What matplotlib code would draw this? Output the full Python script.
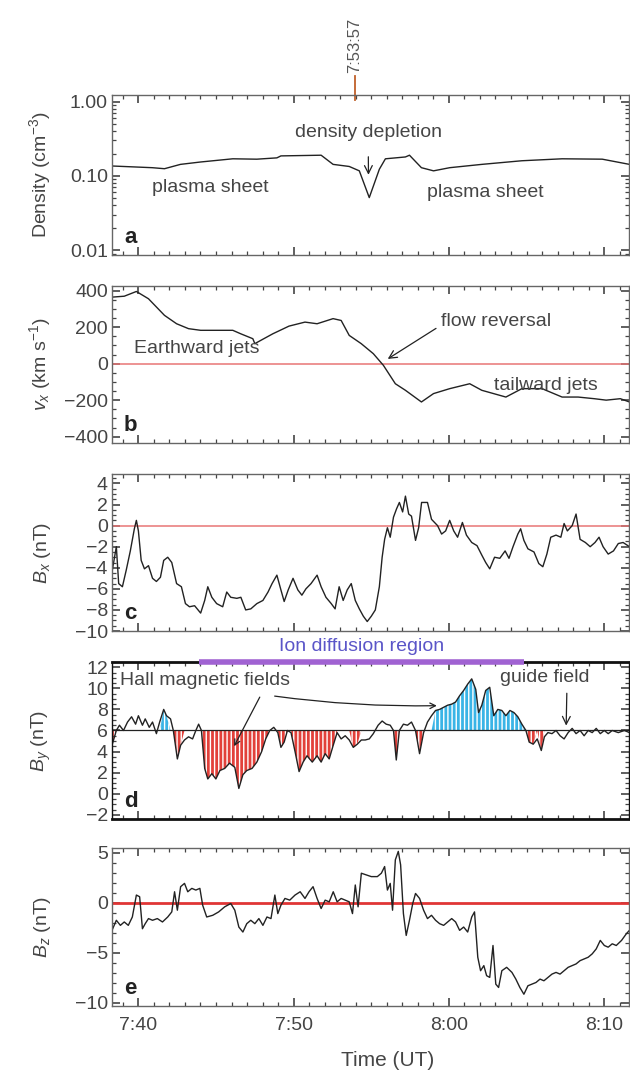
import numpy as np
import matplotlib
matplotlib.use("Agg")
import matplotlib.pyplot as plt
from matplotlib.ticker import MultipleLocator, FixedLocator, LogLocator, NullFormatter

plt.rcParams['font.family'] = ['Liberation Sans', 'DejaVu Sans']
plt.rcParams['mathtext.fontset'] = 'custom'
plt.rcParams['mathtext.rm'] = 'Liberation Sans'
plt.rcParams['mathtext.it'] = 'Liberation Sans:italic'
plt.rcParams['hatch.linewidth'] = 1.0

# time in minutes after 7:40 UT
dens_t = [-1.70, 0.90, 1.68, 2.71, 4.01, 6.08, 7.63, 8.92, 9.18, 11.77, 12.54, 13.58,
          14.23, 14.87, 15.52, 15.91, 17.20, 17.46, 18.23, 19.01, 20.05, 22.12, 24.70,
          27.29, 29.88, 31.63]
dens = [0.136, 0.129, 0.125, 0.143, 0.154, 0.17, 0.168, 0.175, 0.186, 0.19, 0.143, 0.134,
        0.117, 0.051, 0.123, 0.17, 0.18, 0.19, 0.129, 0.117, 0.129, 0.143, 0.16,
        0.17, 0.168, 0.143]

vx_t = [-1.70, -0.91, -0.13, 0.65, 1.68, 2.46, 3.23, 4.01, 5.30, 6.08, 6.59, 7.37, 7.50,
        8.66, 9.70, 10.73, 11.51, 12.54, 13.06, 13.58, 14.35, 15.13, 15.78, 16.55, 17.20,
        18.23, 19.01, 20.05, 21.34, 22.12, 23.67, 24.70, 26.00, 27.29, 28.32, 29.36, 30.13,
        31.04, 31.63]
vx = [365, 370, 396, 356, 265, 219, 192, 183, 183, 183, 164, 137, 110,
      164, 206, 228, 219, 247, 237, 155, 110, 55, -9, -110, -146,
      -210, -164, -137, -110, -146, -183, -137, -137, -183, -183, -192, -200,
      -192, -210]

bx_t = [-1.70, -1.42, -1.27, -1.03, -0.78, -0.52, -0.26, -0.13, 0.00, 0.18, 0.39, 0.65,
        0.91, 1.16, 1.42, 1.63, 1.89, 2.15, 2.46, 2.77, 3.03, 3.29, 3.62, 4.01, 4.27,
        4.47, 4.73, 5.04, 5.43, 5.69, 5.95, 6.34, 6.60, 6.91, 7.24, 7.63, 8.02, 8.35,
        8.61, 8.92, 9.18, 9.39, 9.65, 9.96, 10.27, 10.53, 10.79, 11.12, 11.51, 11.77,
        12.08, 12.42, 12.67, 12.93, 13.19, 13.45, 13.71, 13.97, 14.23, 14.49, 14.74,
        15.00, 15.26, 15.52, 15.70, 15.86, 16.04, 16.22, 16.43, 16.63, 16.81, 17.02,
        17.20, 17.41, 17.59, 17.85, 18.05, 18.24, 18.62, 18.88, 19.27, 19.53, 19.79,
        20.05, 20.31, 20.56, 20.87, 21.13, 21.47, 21.81, 22.12, 22.37, 22.63, 22.94,
        23.28, 23.62, 23.87, 24.13, 24.44, 24.62, 24.83, 25.09, 25.48, 25.79, 26.05,
        26.31, 26.56, 26.90, 27.21, 27.42, 27.63, 27.94, 28.19, 28.45, 28.79, 29.10,
        29.41, 29.67, 29.93, 30.26, 30.60, 30.91, 31.22, 31.63]
bx = [-4.4, -2.0, -5.5, -5.8, -4.2, -2.4, -0.3, 0.5, -0.5, -3.3, -4.1, -3.8,
      -5.0, -5.3, -4.9, -3.3, -3.0, -3.5, -5.5, -5.8, -7.4, -7.7, -7.6, -8.3, -7.1,
      -5.8, -6.8, -7.4, -7.7, -6.3, -6.8, -6.9, -6.8, -8.0, -7.9, -7.4, -7.1, -6.3,
      -5.5, -4.7, -6.1, -7.2, -6.1, -5.0, -6.1, -6.6, -6.0, -5.5, -4.7, -5.8,
      -6.8, -7.4, -7.9, -5.8, -7.1, -6.1, -5.5, -7.1, -7.9, -8.6, -9.1,
      -8.6, -8.0, -5.8, -3.0, -1.3, -0.2, -1.1, 0.8, 1.6, 2.2, 1.3,
      2.8, 1.1, 0.9, -1.4, -0.2, 2.2, 2.2, 0.6, 0.0, -0.8, -0.5,
      0.5, -0.5, -1.1, 0.3, -0.9, -1.6, -1.9, -2.8, -3.5, -4.1, -3.0,
      -3.1, -2.4, -3.1, -2.0, -0.8, -0.3, -1.4, -2.2, -2.5, -3.6, -3.9,
      -2.7, -1.1, -0.9, -1.1, 0.2, -0.5, 0.0, 1.1, -1.3, -1.6, -2.0,
      -1.6, -1.1, -2.0, -2.7, -2.4, -1.7, -1.6, -2.0]

by_t = [-1.70, -1.42, -1.22, -0.96, -0.70, -0.44, -0.18, 0.00, 0.26, 0.44, 0.70, 0.91,
        1.16, 1.37, 1.63, 1.81, 2.07, 2.25, 2.51, 2.72, 2.97, 3.23, 3.49, 3.70, 3.88,
        4.06, 4.27, 4.47, 4.73, 4.99, 5.25, 5.56, 5.87, 6.21, 6.47, 6.73, 6.98, 7.32,
        7.63, 7.94, 8.20, 8.46, 8.72, 8.98, 9.18, 9.39, 9.60, 9.83, 10.09, 10.35, 10.61,
        10.86, 11.20, 11.51, 11.77, 12.03, 12.29, 12.55, 12.80, 13.06, 13.32, 13.58,
        13.84, 14.10, 14.36, 14.61, 14.87, 15.13, 15.44, 15.70, 15.96, 16.22, 16.43,
        16.61, 16.81, 17.07, 17.33, 17.59, 17.85, 18.11, 18.37, 18.62, 18.88, 19.14,
        19.40, 19.66, 19.92, 20.18, 20.43, 20.69, 20.95, 21.21, 21.47, 21.73, 21.91,
        22.12, 22.37, 22.63, 22.89, 23.15, 23.41, 23.67, 23.93, 24.19, 24.44, 24.70,
        24.96, 25.17, 25.43, 25.69, 25.95, 26.15, 26.38, 26.64, 26.90, 27.16, 27.42,
        27.68, 27.94, 28.19, 28.45, 28.71, 28.97, 29.23, 29.49, 29.75, 30.01, 30.26,
        30.52, 30.91, 31.30, 31.63]
by = [4.6, 6.0, 6.5, 6.0, 6.8, 7.3, 6.6, 7.4, 6.5, 7.1, 6.3, 6.8,
      5.7, 6.8, 8.0, 7.4, 7.1, 6.0, 3.3, 4.6, 5.1, 5.4, 5.2, 6.0, 6.6,
      6.0, 2.4, 1.4, 1.9, 1.4, 2.2, 2.4, 2.9, 2.5, 0.5, 1.8, 2.2, 2.4,
      3.0, 4.0, 5.2, 6.0, 6.3, 5.8, 4.4, 4.9, 6.0, 5.8, 4.0, 2.1, 3.0,
      3.6, 3.0, 3.6, 3.0, 3.8, 3.3, 4.6, 5.8, 5.2, 5.5, 5.1,
      4.4, 4.7, 5.1, 5.1, 5.2, 5.7, 6.5, 6.9, 6.6, 6.5, 6.0,
      3.2, 6.0, 6.6, 6.5, 6.8, 6.0, 3.8, 5.8, 6.8, 7.4, 7.9,
      8.0, 8.2, 8.4, 8.5, 8.7, 9.3, 9.8, 10.4, 10.9, 9.9, 7.7,
      8.4, 9.8, 10.1, 7.4, 8.0, 7.9, 7.4, 7.9, 7.7, 7.3, 6.6,
      6.0, 4.9, 4.7, 5.2, 4.1, 5.4, 5.8, 5.7, 6.0, 5.5, 5.2,
      5.8, 6.2, 5.7, 6.0, 5.5, 6.0, 5.8, 6.2, 5.7, 6.0, 5.7,
      6.0, 5.8, 6.0, 5.8]
# coloured Hall-field intervals (minutes after 7:40)
red_spans = [(-1.70, -1.42), (2.38, 2.85), (4.14, 8.35), (9.05, 9.49), (9.96, 12.86),
             (13.71, 14.23), (16.50, 16.74), (17.98, 18.29), (25.09, 25.48), (25.79, 26.12)]
blue_spans = [(1.42, 1.89), (19.01, 24.83)]
idr_span = (3.88, 24.83)

bz_t = [-1.70, -1.42, -1.16, -0.91, -0.65, -0.39, -0.13, 0.08, 0.26, 0.44, 0.65, 0.91,
        1.22, 1.55, 1.89, 2.15, 2.33, 2.51, 2.72, 2.97, 3.18, 3.44, 3.70, 3.96, 4.14,
        4.40, 4.79, 5.17, 5.56, 5.95, 6.21, 6.47, 6.73, 6.98, 7.24, 7.50, 7.76, 8.02,
        8.28, 8.54, 8.79, 8.98, 9.18, 9.44, 9.75, 10.09, 10.42, 10.73, 10.99, 11.25,
        11.51, 11.77, 12.03, 12.29, 12.55, 12.80, 13.06, 13.32, 13.58, 13.79, 13.97,
        14.15, 14.36, 14.67, 15.00, 15.39, 15.65, 15.86, 16.04, 16.22, 16.37, 16.55,
        16.74, 16.89, 17.07, 17.25, 17.46, 17.67, 17.85, 18.11, 18.37, 18.62, 18.88,
        19.14, 19.40, 19.66, 19.92, 20.18, 20.43, 20.69, 20.95, 21.21, 21.47, 21.65,
        21.86, 22.04, 22.25, 22.43, 22.63, 22.84, 23.02, 23.20, 23.41, 23.72, 24.06,
        24.31, 24.57, 24.83, 25.09, 25.35, 25.61, 25.87, 26.12, 26.38, 26.64, 26.90,
        27.16, 27.42, 27.68, 27.94, 28.19, 28.45, 28.71, 28.97, 29.23, 29.49, 29.75,
        30.01, 30.26, 30.52, 30.78, 31.12, 31.43, 31.63]
bz = [-2.76, -1.75, -2.26, -1.92, -2.26, -1.42, 0.78, 0.61, -2.60, -2.09, -1.58, -1.75,
      -1.58, -1.92, -1.42, -0.91, 1.11, -0.74, 1.62, 1.95, 1.11, 1.45, 1.28, 1.45, -0.24,
      -1.42, -1.25, -0.91, -0.40, -0.07, -0.74, -2.43, -2.93, -2.09, -1.75, -2.09, -1.58, -2.26,
      -1.42, -1.58, 0.78, -1.08, -0.24, 0.44, 0.27, 0.78, 1.11, 0.44, 1.11, 1.62,
      0.44, -0.57, 0.27, 0.10, 1.11, 0.10, 0.44, 0.27, 0.10, -1.08, 1.79,
      -0.40, 2.97, 2.80, 2.63, 2.63, 2.97, 3.64, 1.28, 1.95, -0.74, 4.31,
      5.16, 3.81, -1.08, -3.27, -1.75, -0.07, 0.94, 0.44, -0.74, -1.58, -1.25,
      -1.75, -2.09, -2.26, -1.92, -1.58, -1.92, -2.76, -2.43, -2.93, -1.42, -0.91,
      -5.46, -6.81, -6.30, -7.31, -7.48, -4.28, -8.16, -8.49, -6.81, -6.47, -6.98,
      -7.65, -8.49, -9.17, -8.32, -8.16, -7.99, -7.65, -7.82, -7.48, -7.15, -6.98,
      -7.15, -6.81, -6.47, -6.30, -6.13, -5.80, -5.63, -5.46, -5.12, -4.62, -3.77,
      -4.28, -4.45, -4.11, -4.28, -3.77, -3.10, -2.76]

xticks = [0, 10, 20, 30]
xticklabels = ['7:40', '7:50', '8:00', '8:10']
event_t = 13.95  # 7:53:57

W, H = 630, 1079
fig = plt.figure(figsize=(W / 100, H / 100), dpi=100)
TXT = '#454545'
FS = 14


def panel(top, bottom):
    ax = fig.add_axes([112 / W, 1 - bottom / H, (629 - 112) / W, (bottom - top) / H])
    ax.set_xlim(-1.7, 31.6)
    ax.xaxis.set_major_locator(FixedLocator(xticks))
    ax.xaxis.set_minor_locator(MultipleLocator(1))
    ax.tick_params(which='both', direction='in', top=True, right=True,
                   labelsize=FS, colors='#444444', pad=3)
    ax.tick_params(which='major', length=6, width=1.2)
    ax.tick_params(which='minor', length=3, width=0.9)
    ax.set_xticklabels([])
    for s in ax.spines.values():
        s.set_color('#666666')
        s.set_linewidth(1.0)
    return ax


def letter(ax, s):
    ax.text(0.036, 0.11, s, transform=ax.transAxes, fontsize=16, fontweight='bold',
            ha='center', va='center', color='#222222')


def ylab(ax, s):
    ax.set_ylabel(s, fontsize=FS, color=TXT)
    ax.yaxis.set_label_coords(-0.115, 0.5)


# a: density
ax = panel(95, 255)
ax.semilogy(dens_t, dens, color='#222222', lw=1.0)
ax.set_ylim(0.0086, 1.23)
ax.yaxis.set_major_locator(FixedLocator([0.01, 0.1, 1.0]))
ax.set_yticklabels(['0.01', '0.10', '1.00'])
ax.yaxis.set_minor_locator(LogLocator(base=10, subs=np.arange(2, 10)))
ax.yaxis.set_minor_formatter(NullFormatter())
ylab(ax, 'Density (cm$^{-3}$)')
letter(ax, 'a')
tr = ax.get_xaxis_transform()
ax.annotate('density depletion', xy=(14.82, 0.095), xytext=(14.8, 0.7625),
            textcoords=tr, ha='center', va='center', fontsize=FS, color=TXT,
            arrowprops=dict(arrowstyle='->', color='#222222', lw=0.9, shrinkA=9))
ax.text(0.9, 0.42, 'plasma sheet', transform=tr, fontsize=FS, color=TXT, va='center')
ax.text(18.6, 0.39, 'plasma sheet', transform=tr, fontsize=FS, color=TXT, va='center')
ax.plot([event_t, event_t], [0.97, 1.12], transform=tr, color='#c0602a', lw=1.3,
        clip_on=False)
ax.text(event_t, 1.14, '7:53:57', transform=tr, rotation=90, ha='center', va='bottom',
        fontsize=12, color='#555555')

# b: vx
ax = panel(286, 443)
ax.axhline(0, color='#e87575', lw=1.1)
ax.plot(vx_t, vx, color='#222222', lw=1.0)
ax.set_ylim(-435, 426)
ax.yaxis.set_major_locator(FixedLocator([-400, -200, 0, 200, 400]))
ax.yaxis.set_minor_locator(MultipleLocator(50))
ylab(ax, '$v_x$ (km s$^{-1}$)')
letter(ax, 'b')
ax.text(-0.26, 82, 'Earthward jets', fontsize=FS, color=TXT, va='center')
ax.text(22.9, -120, 'tailward jets', fontsize=FS, color=TXT, va='center')
ax.annotate('flow reversal', xy=(15.91, 18), xytext=(19.5, 230), fontsize=FS,
            color=TXT, va='center',
            arrowprops=dict(arrowstyle='->', color='#222222', lw=0.9,
                            relpos=(0, 0.3), shrinkA=2))

# c: Bx
ax = panel(474, 631)
ax.axhline(0, color='#e87575', lw=1.1)
ax.plot(bx_t, bx, color='#222222', lw=1.0)
ax.set_ylim(-10, 4.9)
ax.yaxis.set_major_locator(MultipleLocator(2))
ax.yaxis.set_minor_locator(MultipleLocator(0.5))
ylab(ax, '$B_x$ (nT)')
letter(ax, 'c')

# d: By
ax = panel(662, 819)
for s in ax.spines.values():
    s.set_color('#111111')
ax.spines['top'].set_linewidth(2.0)
ax.spines['bottom'].set_linewidth(2.0)
by_t_a = np.array(by_t)
by_a = np.array(by)
red_mask = np.zeros(len(by_t), bool)
for a0, a1 in red_spans:
    red_mask |= (by_t_a >= a0) & (by_t_a <= a1)
blue_mask = np.zeros(len(by_t), bool)
for a0, a1 in blue_spans:
    blue_mask |= (by_t_a >= a0) & (by_t_a <= a1)
ax.fill_between(by_t_a, 6, by_a, where=red_mask, interpolate=True, facecolor='#e2403a',
                edgecolor='white', hatch='||||', linewidth=0)
ax.fill_between(by_t_a, 6, by_a, where=blue_mask, interpolate=True, facecolor='#3ab4e6',
                edgecolor='white', hatch='||||', linewidth=0)
ax.axhline(6, color='#222222', lw=0.9)
ax.plot(by_t, by, color='#222222', lw=1.0)
ax.set_ylim(-2.4, 12.5)
ax.yaxis.set_major_locator(MultipleLocator(2))
ax.yaxis.set_minor_locator(MultipleLocator(0.5))
ylab(ax, '$B_y$ (nT)')
letter(ax, 'd')
tr = ax.get_xaxis_transform()
ax.plot(idr_span, [1, 1], transform=tr, color='#a062d2', lw=4, clip_on=False,
        solid_capstyle='butt', zorder=5)
ax.text(sum(idr_span) / 2, 1.1, 'Ion diffusion region', transform=tr, ha='center',
        va='center', fontsize=FS, color='#5a55c8')
ax.text(-1.17, 10.7, 'Hall magnetic fields', fontsize=FS, color=TXT, va='center')
ax.annotate('', xy=(6.08, 4.27), xytext=(7.9, 9.4),
            arrowprops=dict(arrowstyle='->', color='#222222', lw=0.9))
ax.annotate('', xy=(19.40, 8.36), xytext=(8.6, 9.3),
            arrowprops=dict(arrowstyle='->', color='#222222', lw=0.9,
                            connectionstyle='arc3,rad=0.04'))
ax.annotate('guide field', xy=(27.55, 6.2), xytext=(23.28, 11.0), fontsize=FS,
            color=TXT, va='center',
            arrowprops=dict(arrowstyle='->', color='#222222', lw=0.9,
                            relpos=(0.75, 0.0), shrinkA=3))

# e: Bz
ax = panel(848, 1006)
ax.axhline(0, color='#e03535', lw=2.0)
ax.plot(bz_t, bz, color='#222222', lw=1.0)
ax.set_ylim(-10.35, 5.5)
ax.yaxis.set_major_locator(FixedLocator([-10, -5, 0, 5]))
ax.yaxis.set_minor_locator(MultipleLocator(1))
ax.set_xticklabels(xticklabels)
ax.tick_params(axis='x', pad=8)
ylab(ax, '$B_z$ (nT)')
letter(ax, 'e')

fig.text(388 / W, 1 - 1060 / H, 'Time (UT)', ha='center', va='center', fontsize=15,
         color=TXT)

fig.savefig('out.png', dpi=100)
